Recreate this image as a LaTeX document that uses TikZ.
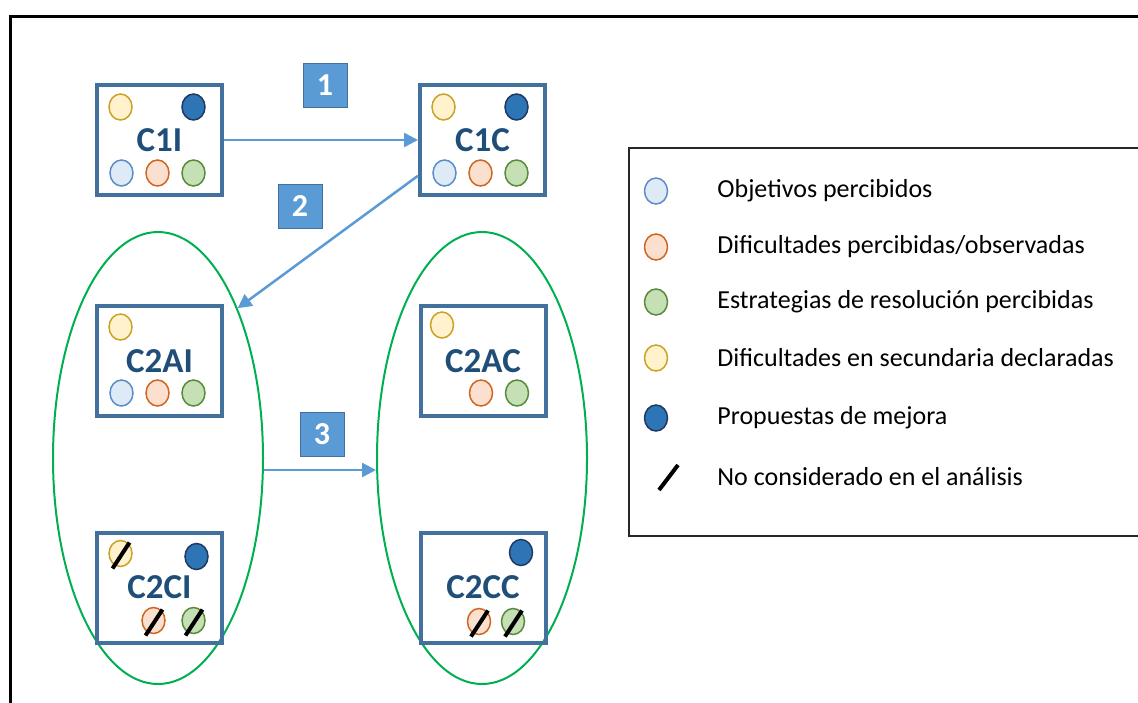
\documentclass[tikz,border=0pt]{standalone}
\usepackage{fontspec}
\setmainfont{Carlito}
\usetikzlibrary{shapes.geometric,arrows.meta}

\definecolor{bordecaja}{HTML}{41719C}
\definecolor{textocaja}{HTML}{1F4E79}
\definecolor{azulnum}{HTML}{5B9BD5}
\definecolor{verdegrupo}{HTML}{00B050}

\tikzset{
    caja/.style={draw=bordecaja,line width=2pt,minimum width=62.5pt,
        minimum height=55pt,inner sep=0pt,text=textocaja,
        font=\fontsize{17.5}{17.5}\selectfont\bfseries},
    punto/.style={ellipse,line width=0.75pt,minimum width=11.5pt,
        minimum height=13pt,inner sep=0pt},
    obj/.style={punto,draw=HTMLblue,fill=HTMLblueF},
    dif/.style={punto,draw=HTMLorange,fill=HTMLorangeF},
    est/.style={punto,draw=HTMLgreen,fill=HTMLgreenF},
    sec/.style={punto,draw=HTMLyellow,fill=HTMLyellowF},
    prop/.style={punto,draw=HTMLnavy,fill=HTMLnavyF},
    tachar/.style={line width=2pt,black},
    numero/.style={draw=bordecaja,fill=azulnum,minimum size=22pt,
        inner sep=0pt,text=white,font=\fontsize{16}{16}\selectfont\bfseries},
    flecha/.style={draw=azulnum,line width=1.25pt,
        -{Triangle[length=7pt,width=7pt]}},
    grupo/.style={ellipse,draw=verdegrupo,line width=1pt,
        minimum width=105pt,minimum height=226pt,inner sep=0pt},
    leyenda/.style={anchor=west,inner sep=0pt,
        font=\fontsize{13}{13}\selectfont}
}
\definecolor{HTMLblue}{HTML}{5B8DC9}
\definecolor{HTMLblueF}{HTML}{DEEBF7}
\definecolor{HTMLorange}{HTML}{D0661F}
\definecolor{HTMLorangeF}{HTML}{FBE0D0}
\definecolor{HTMLgreen}{HTML}{5A8A3C}
\definecolor{HTMLgreenF}{HTML}{C5E0B4}
\definecolor{HTMLyellow}{HTML}{C9A227}
\definecolor{HTMLyellowF}{HTML}{FFF2CC}
\definecolor{HTMLnavy}{HTML}{203864}
\definecolor{HTMLnavyF}{HTML}{2E75B6}

\begin{document}
\begin{tikzpicture}[x=0.5pt,y=-0.5pt]
    \clip (0,0) rectangle (1138,702);
    \draw[line width=1.5pt] (10,16) rectangle (1160,720);

    % grupos
    \node[grupo] (g1) at (158,458) {};
    \node[grupo] (g2) at (482,458) {};

    % cajas
    \node[caja] (c1i) at (159.5,140) {C1I};
    \node[caja] (c1c) at (482.5,140) {C1C};
    \node[caja] (c2ai) at (159.5,361) {C2AI};
    \node[caja] (c2ac) at (483,361) {C2AC};
    \node[caja] (c2ci) at (159.5,587.5) {C2CI};
    \node[caja] (c2cc) at (483,587.5) {C2CC};

    % C1I
    \node[sec] (s1i) at ([shift={(-39,-33)}]c1i.center) {};
    \node[prop] (p1i) at ([shift={(34,-33)}]c1i.center) {};
    \node[obj] (o1i) at ([shift={(-38,33)}]c1i.center) {};
    \node[dif] (d1i) at ([shift={(-2,33)}]c1i.center) {};
    \node[est] (e1i) at ([shift={(34,33)}]c1i.center) {};

    % C1C
    \node[sec] (s1c) at ([shift={(-39,-33)}]c1c.center) {};
    \node[prop] (p1c) at ([shift={(34,-33)}]c1c.center) {};
    \node[obj] (o1c) at ([shift={(-38,33)}]c1c.center) {};
    \node[dif] (d1c) at ([shift={(-2,33)}]c1c.center) {};
    \node[est] (e1c) at ([shift={(34,33)}]c1c.center) {};

    % C2AI
    \node[sec] (s2ai) at ([shift={(-39,-34)}]c2ai.center) {};
    \node[obj] (o2ai) at ([shift={(-38,32)}]c2ai.center) {};
    \node[dif] (d2ai) at ([shift={(-2,32)}]c2ai.center) {};
    \node[est] (e2ai) at ([shift={(34,32)}]c2ai.center) {};

    % C2AC
    \node[sec] (s2ac) at ([shift={(-41,-36)}]c2ac.center) {};
    \node[dif] (d2ac) at ([shift={(-2,32)}]c2ac.center) {};
    \node[est] (e2ac) at ([shift={(34,32)}]c2ac.center) {};

    % C2CI
    \node[sec] (s2ci) at ([shift={(-39,-34)}]c2ci.center) {};
    \node[prop] (p2ci) at ([shift={(37,-31)}]c2ci.center) {};
    \node[dif] (d2ci) at ([shift={(-6,33)}]c2ci.center) {};
    \node[est] (e2ci) at ([shift={(34,33)}]c2ci.center) {};
    \foreach \n in {s2ci,d2ci,e2ci}
        \draw[tachar] ([shift={(-8,15)}]\n.center) -- ([shift={(9,-11)}]\n.center);

    % C2CC
    \node[prop] (p2cc) at ([shift={(38,-35)}]c2cc.center) {};
    \node[dif] (d2cc) at ([shift={(-4,34)}]c2cc.center) {};
    \node[est] (e2cc) at ([shift={(30,34)}]c2cc.center) {};
    \foreach \n in {d2cc,e2cc}
        \draw[tachar] ([shift={(-8,15)}]\n.center) -- ([shift={(9,-11)}]\n.center);

    % flechas
    \draw[flecha] (c1i) -- (c1c);
    \draw[flecha] (c1c.209) -- (g1.62);
    \draw[flecha] (g1.east |- 0,470) -- (g2.west |- 0,470);
    \node[numero] (n1) at (325,85) {1};
    \node[numero] (n2) at (300,206) {2};
    \node[numero] (n3) at (322,434) {3};

    % leyenda
    \draw[line width=1pt,black!85] (629,148) rectangle (1160,536);
    \node[obj] (lo) at (656,191) {};
    \node[leyenda] at (717,191) {Objetivos percibidos};
    \node[dif] (ld) at (656,247) {};
    \node[leyenda] at (717,247) {Dificultades percibidas/observadas};
    \node[est] (le) at (656,302) {};
    \node[leyenda] at (717,302) {Estrategias de resolución percibidas};
    \node[sec] (ls) at (656,358) {};
    \node[leyenda] at (717,358) {Dificultades en secundaria declaradas};
    \node[prop] (lp) at (656,418) {};
    \node[leyenda] at (717,418) {Propuestas de mejora};
    \coordinate (lt) at (668,477);
    \draw[tachar] ([shift={(-9,13)}]lt) -- ([shift={(10,-12)}]lt);
    \node[leyenda] at (717,477) {No considerado en el análisis};
\end{tikzpicture}
\end{document}
